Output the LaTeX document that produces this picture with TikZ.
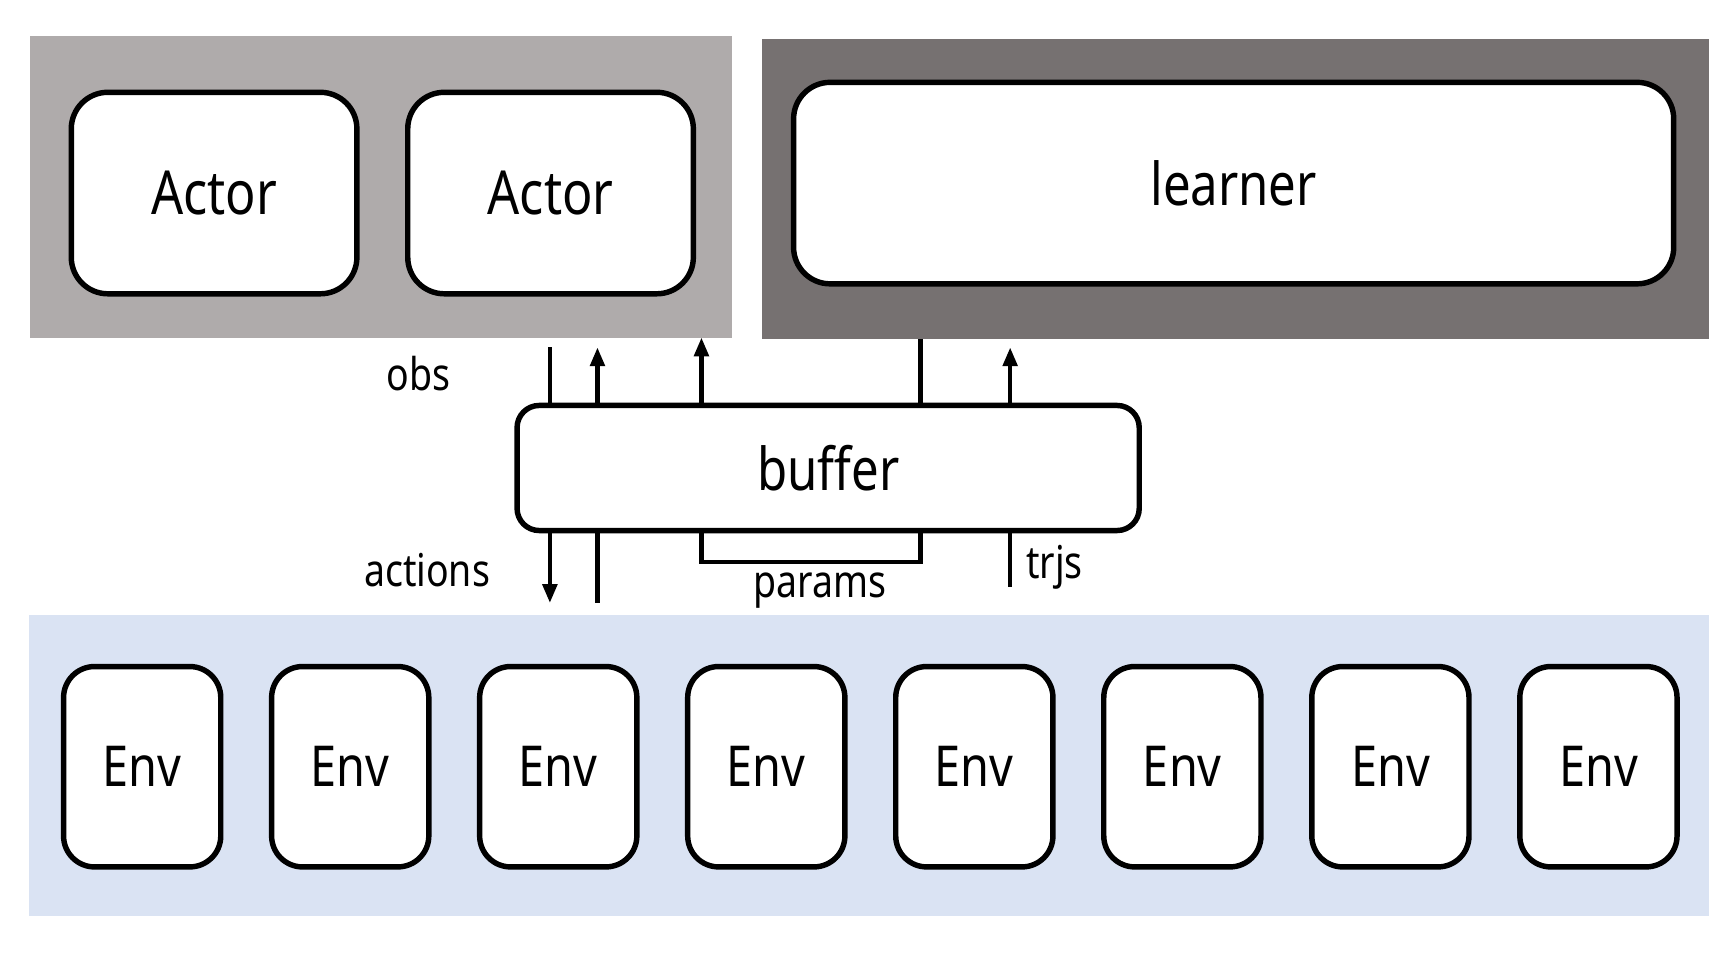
\documentclass[tikz,border=0pt]{standalone}
\usepackage{fontspec}
\setmainfont{Noto Sans}[FakeStretch=0.83]
\usetikzlibrary{positioning,arrows.meta}
\definecolor{actgray}{HTML}{AFABAB}
\definecolor{lrngray}{HTML}{767171}
\definecolor{envblue}{HTML}{DAE3F3}

\begin{document}
\begin{tikzpicture}[x=0.01cm, y=-0.01cm,
    box/.style={draw, fill=white, line width=1.4pt, rounded corners=0.33cm},
    actor/.style={box, minimum width=2.58cm, minimum height=1.82cm,
      font=\fontsize{15.6}{18}\selectfont},
    env/.style={box, minimum width=1.42cm, minimum height=1.81cm,
      rounded corners=0.28cm, font=\fontsize{14.5}{17}\selectfont},
    panel/.style={inner sep=0pt, outer sep=0pt},
    lbl/.style={font=\fontsize{11.6}{14}\selectfont},
    >={Triangle[length=0.17cm, width=0.13cm]}, line width=1.1pt]
  \useasboundingbox (0,0) rectangle (1560,871);
  % backgrounds
  \node[panel, fill=actgray, minimum width=6.34cm, minimum height=2.72cm] (actp) at (344,169) {};
  \node[panel, fill=lrngray, minimum width=8.55cm, minimum height=2.71cm] (lrnp) at (1116.5,170.5) {};
  \node[panel, fill=envblue, minimum width=15.17cm, minimum height=2.72cm] (envp) at (785.5,692) {};
  % actors and learner
  \node[actor] (act1) at (193.5,174.5) {Actor};
  \node[actor, right=0.41cm of act1] (act2) {Actor};
  \node[box, minimum width=7.95cm, minimum height=1.82cm,
    font=\fontsize{15.2}{18}\selectfont] (lrn) at (1115,165.5) {learner};
  \node[box, rounded corners=0.2cm, minimum width=5.62cm, minimum height=1.13cm,
    font=\fontsize{15.2}{18}\selectfont] (buf) at (748.5,423) {buffer};
  % environments
  \node[env] (e1) at (128.5,693) {Env};
  \node[env, right=0.41cm of e1] (e2) {Env};
  \node[env, right=0.41cm of e2] (e3) {Env};
  \node[env, right=0.41cm of e3] (e4) {Env};
  \node[env, right=0.41cm of e4] (e5) {Env};
  \node[env, right=0.41cm of e5] (e6) {Env};
  \node[env, right=0.41cm of e6] (e7) {Env};
  \node[env, right=0.41cm of e7] (e8) {Env};
  % connector ends
  \coordinate (tA) at (497,314);
  \coordinate (tB) at (540,314);
  \coordinate (tE) at (913,314);
  \coordinate (bA) at (497,545);
  \coordinate (bB) at (540,545);
  \coordinate (bE) at (913,531);
  \coordinate (pL) at (634,508);
  \coordinate (pR) at (832,508);
  \draw (buf.north -| tA) -- (tA);
  \draw[->] (buf.north -| tB) -- (tB);
  \draw[->] (buf.north -| pL) -- (actp.south -| pL);
  \draw (buf.north -| pR) -- (lrnp.south -| pR);
  \draw[->] (buf.north -| tE) -- (tE);
  \draw[->] (buf.south -| bA) -- (bA);
  \draw (buf.south -| bB) -- (bB);
  \draw (buf.south -| pL) -- (pL) -- (pR) -- (buf.south -| pR);
  \draw (buf.south -| bE) -- (bE);
  % labels
  \node[lbl] (obs) at (378,338) {obs};
  \node[lbl] (acts) at (386,515) {actions};
  \node[lbl] (prm) at (741,534) {params};
  \node[lbl] (trj) at (953,513) {trjs};
\end{tikzpicture}
\end{document}
